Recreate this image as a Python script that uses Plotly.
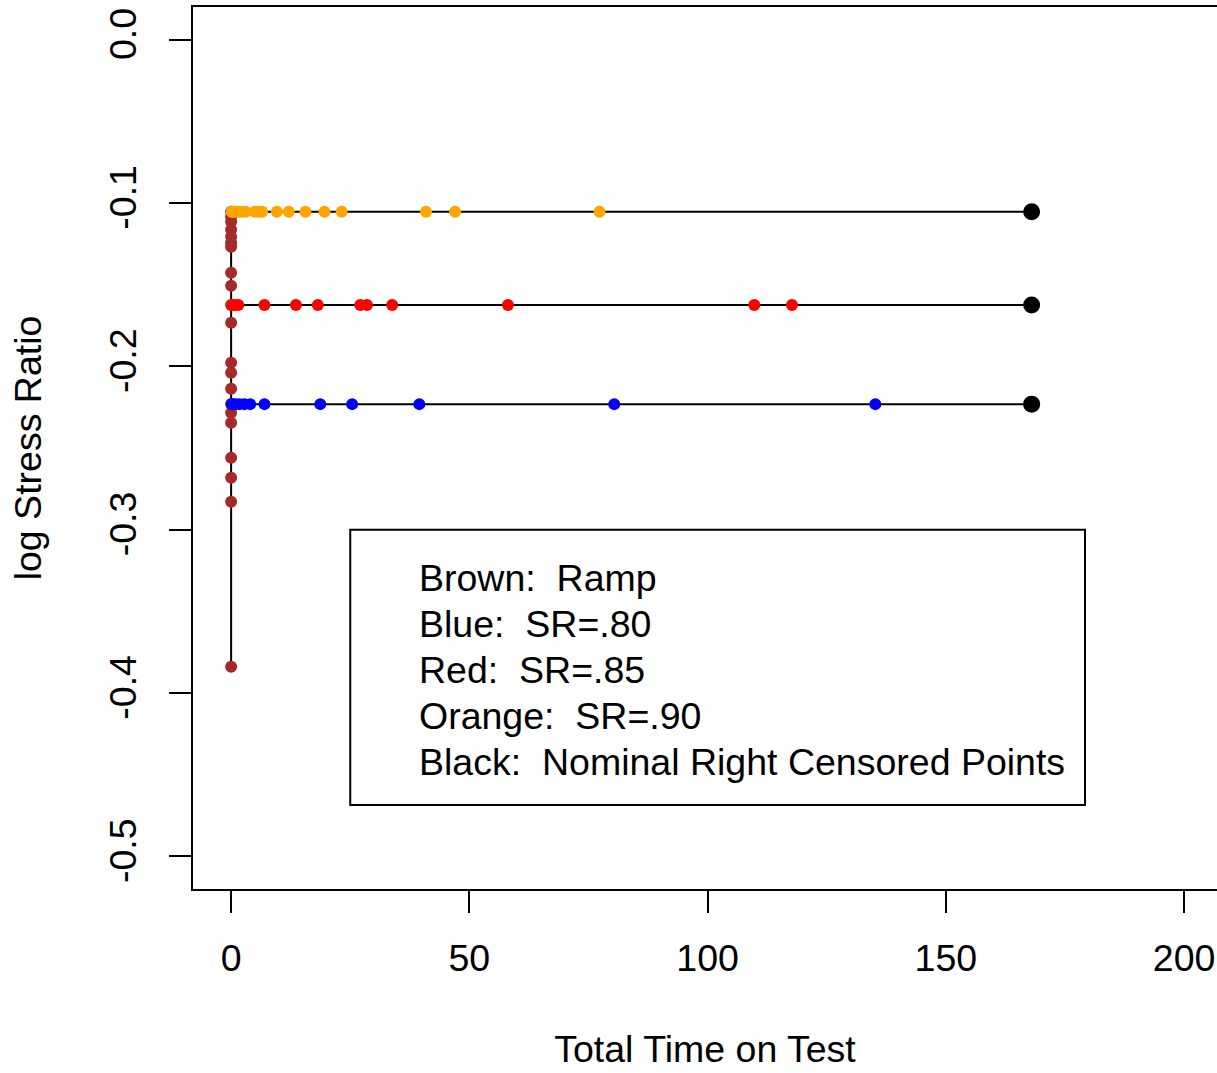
import plotly.graph_objects as go
import numpy as np

# ---- data ----
censor_time = 168
levels = {"orange": np.log(0.90), "red": np.log(0.85), "blue": np.log(0.80)}

orange_x = [0.1, 0.3, 0.6, 1.0, 1.5, 2.2, 3.0, 5.0, 5.8, 6.5, 9.6, 12.1, 15.6, 19.6, 23.2, 40.9, 47.0, 77.3]
red_x = [0.2, 0.8, 1.5, 7.0, 13.6, 18.2, 27.1, 28.5, 33.8, 58.1, 109.8, 117.7]
blue_x = [0.1, 0.5, 1.0, 1.8, 2.8, 4.0, 7.0, 18.7, 25.4, 39.5, 80.4, 135.2]
brown_y = [-0.1054, -0.1084, -0.1115, -0.1163, -0.1206, -0.1243, -0.1268, -0.1427, -0.1506,
           -0.1625, -0.1733, -0.1978, -0.2039, -0.2137, -0.2231, -0.2284, -0.2345, -0.2560,
           -0.2682, -0.2829, -0.3839]
brown_x = [0.0] * len(brown_y)

x_ticks = [0, 50, 100, 150, 200]
y_ticks = [0.0, -0.1, -0.2, -0.3, -0.4, -0.5]
y_ticktext = ["0.0", "-0.1", "-0.2", "-0.3", "-0.4", "-0.5"]

legend_lines = ["Brown:  Ramp", "Blue:  SR=.80", "Red:  SR=.85", "Orange:  SR=.90",
                "Black:  Nominal Right Censored Points"]

FONT = "Liberation Sans, Arial, sans-serif"
FS = 37.5

fig = go.Figure()

# lines
for key in ["orange", "red", "blue"]:
    fig.add_trace(go.Scatter(x=[0, censor_time], y=[levels[key]] * 2, mode="lines",
                             line=dict(color="black", width=2), showlegend=False, hoverinfo="skip"))
fig.add_trace(go.Scatter(x=[0, 0], y=[max(brown_y), min(brown_y)], mode="lines",
                         line=dict(color="black", width=2), showlegend=False, hoverinfo="skip"))

ms = 12
fig.add_trace(go.Scatter(x=brown_x, y=brown_y, mode="markers",
                         marker=dict(color="#A52A2A", size=ms), showlegend=False))
fig.add_trace(go.Scatter(x=blue_x, y=[levels["blue"]] * len(blue_x), mode="markers",
                         marker=dict(color="#0000FF", size=ms), showlegend=False))
fig.add_trace(go.Scatter(x=red_x, y=[levels["red"]] * len(red_x), mode="markers",
                         marker=dict(color="#FF0000", size=ms), showlegend=False))
fig.add_trace(go.Scatter(x=orange_x, y=[levels["orange"]] * len(orange_x), mode="markers",
                         marker=dict(color="#FFA500", size=ms), showlegend=False))
fig.add_trace(go.Scatter(x=[censor_time] * 3, y=[levels["orange"], levels["red"], levels["blue"]],
                         mode="markers", marker=dict(color="black", size=17), showlegend=False))

# legend box (data coords)
fig.add_shape(type="rect", x0=25, x1=179.2, y0=-0.4685, y1=-0.3,
              line=dict(color="black", width=2), fillcolor="white", layer="below")
ly0 = -0.3295
dy = 0.02817
for i, t in enumerate(legend_lines):
    fig.add_annotation(x=39.0, y=ly0 - i * dy, text=t, showarrow=False, xanchor="left",
                       yanchor="middle", font=dict(family=FONT, size=FS, color="black"))

fig.update_layout(
    width=1217, height=1073,
    margin=dict(l=193, r=0, t=7, b=184),
    paper_bgcolor="white", plot_bgcolor="white",
    font=dict(family=FONT, size=FS, color="black"),
    xaxis=dict(range=[-8, 206.9], tickvals=x_ticks, ticks="outside", ticklen=22, tickwidth=2,
               tickcolor="black", showline=True, linecolor="black", linewidth=2, mirror=True,
               showgrid=False, zeroline=False, ticklabelstandoff=13,
               title=dict(text="Total Time on Test", standoff=58, font=dict(size=FS))),
    yaxis=dict(range=[-0.52, 0.02], tickvals=y_ticks, ticktext=y_ticktext, tickangle=-90,
               ticks="outside", ticklen=22, tickwidth=2, tickcolor="black",
               showline=True, linecolor="black", linewidth=2, mirror=False,
               showgrid=False, zeroline=False, ticklabelstandoff=18,
               title=dict(text="log Stress Ratio", standoff=49, font=dict(size=FS))),
)

fig.write_html("out.html", config={"displayModeBar": False},
               post_script="document.body.style.margin='0';")
